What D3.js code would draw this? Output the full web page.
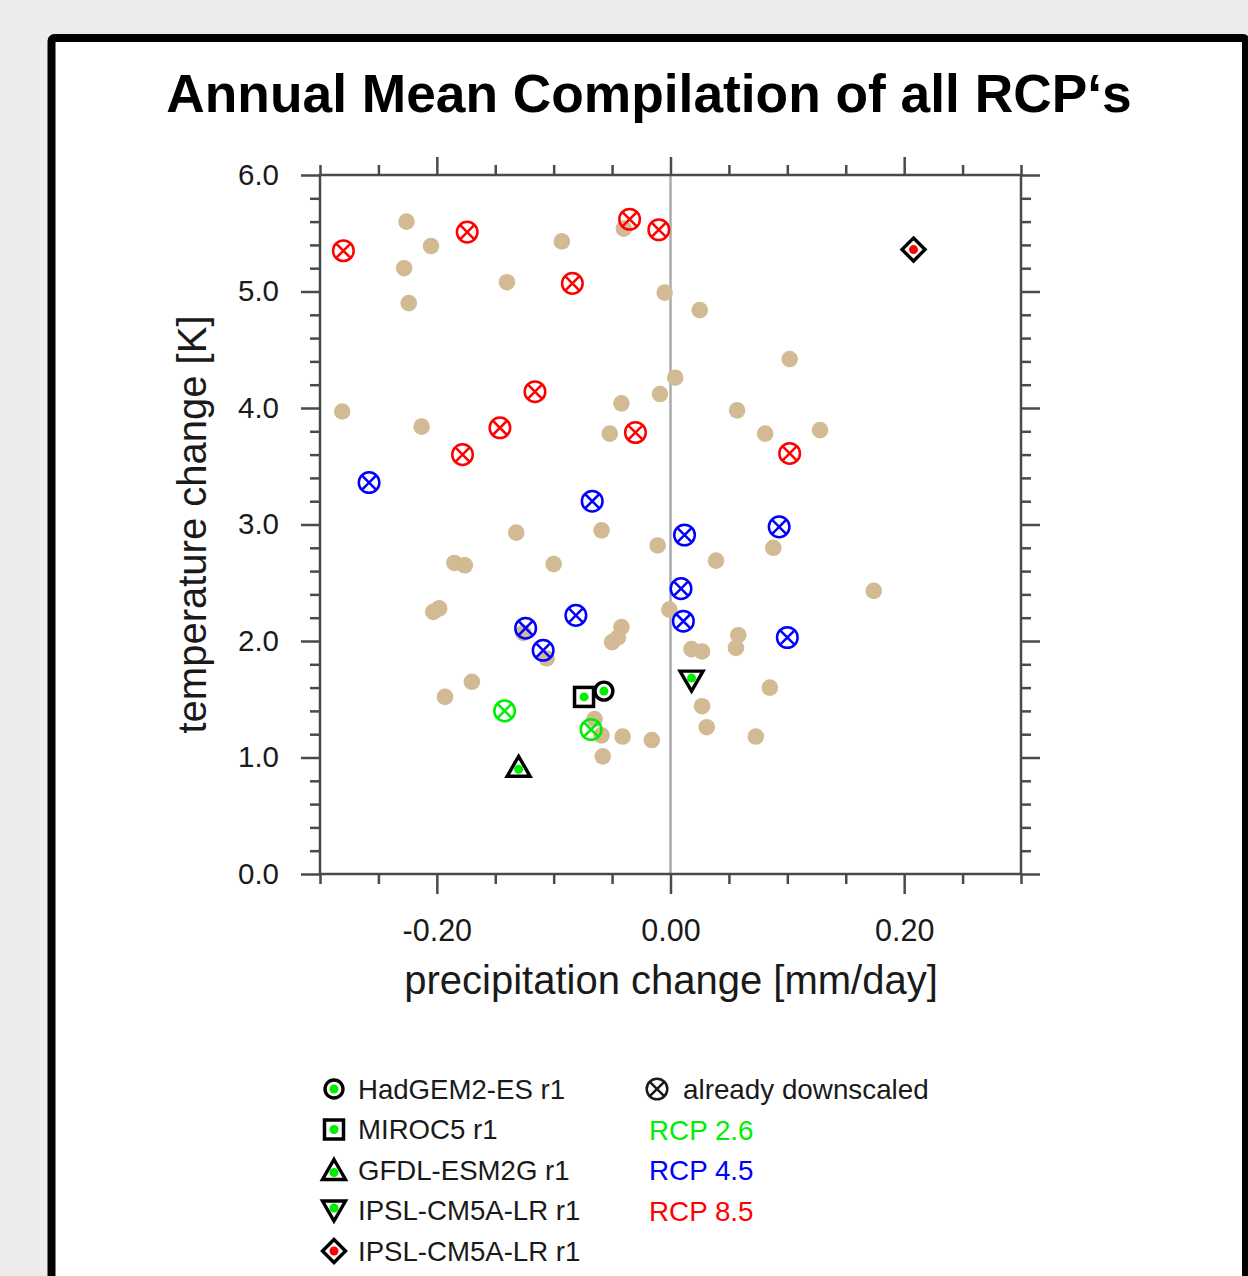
<!DOCTYPE html>
<html>
<head>
<meta charset="utf-8">
<script src="https://cdn.jsdelivr.net/npm/d3@7"></script>
<style>
  body { margin: 0; background: #ececec; }
  svg { display: block; }
  text { font-family: "Liberation Sans", Arial, Helvetica, sans-serif; }
</style>
</head>
<body>
<div id="chart"></div>
<script>
// all other models (tan dots)
let otherModels = [
    [-0.226, 5.60], [-0.205, 5.39], [-0.228, 5.20], [-0.224, 4.90], [-0.140, 5.08],
    [-0.093, 5.43], [-0.040, 5.54], [-0.005, 4.99], [0.025, 4.84], [0.102, 4.42],
    [-0.281, 3.97], [-0.213, 3.84], [-0.052, 3.78], [-0.042, 4.04], [-0.009, 4.12],
    [0.004, 4.26], [0.057, 3.98], [0.081, 3.78], [0.128, 3.81], [-0.132, 2.93],
    [-0.059, 2.95], [-0.011, 2.82], [-0.185, 2.67], [-0.176, 2.65], [-0.100, 2.66],
    [-0.203, 2.25], [-0.198, 2.28], [-0.001, 2.27], [-0.042, 2.12], [-0.045, 2.03],
    [-0.050, 1.99], [-0.126, 2.07], [-0.106, 1.85], [-0.170, 1.65], [-0.193, 1.52],
    [-0.065, 1.33], [-0.059, 1.19], [-0.041, 1.18], [-0.016, 1.15], [-0.058, 1.01],
    [0.088, 2.80], [0.039, 2.69], [0.174, 2.43], [0.058, 2.05], [0.056, 1.94],
    [0.018, 1.93], [0.027, 1.91], [0.085, 1.60], [0.027, 1.44], [0.031, 1.26],
    [0.073, 1.18]
];
// already downscaled, per scenario
let rcp26Done = [[-0.142, 1.40], [-0.068, 1.24]];
let rcp45Done = [
    [-0.258, 3.36], [-0.067, 3.20], [0.012, 2.91], [0.093, 2.98], [0.009, 2.45],
    [-0.081, 2.22], [-0.124, 2.11], [-0.109, 1.92], [0.011, 2.17], [0.100, 2.03]
];
let rcp85Done = [
    [-0.280, 5.35], [-0.174, 5.51], [-0.035, 5.62], [-0.010, 5.53], [-0.084, 5.07],
    [-0.116, 4.14], [-0.146, 3.83], [-0.178, 3.60], [-0.030, 3.79], [0.102, 3.61]
];
// selected models
let selectedNames = ["HadGEM2-ES r1", "MIROC5 r1", "GFDL-ESM2G r1", "IPSL-CM5A-LR r1", "IPSL-CM5A-LR r1"];
let selectedShapes = ["circle", "square", "triUp", "triDown", "diamond"];
let selectedColors = ["#00ee00", "#00ee00", "#00ee00", "#00ee00", "#ff0000"];
let selectedX = [-0.057, -0.074, -0.130, 0.018, 0.208];
let selectedY = [1.57, 1.52, 0.92, 1.66, 5.36];

let rcpLabels = ["RCP 2.6", "RCP 4.5", "RCP 8.5"];
let rcpColors = ["#00ee00", "#0000ff", "#ff0000"];

let xMajor = [-0.2, 0, 0.2];
let xMinor = [-0.3, -0.25, -0.15, -0.1, -0.05, 0.05, 0.1, 0.15, 0.25, 0.3];
let yMajor = [0, 1, 2, 3, 4, 5, 6];
let yMinor = d3.range(0, 31).map(i => i / 5).filter(v => Math.abs(v - Math.round(v)) > 1e-6);

let W = 1248, H = 1276;
let plotLeft = 320, plotRight = 1021, plotTop = 175, plotBottom = 874;
let axisColor = "#4a4a4a";

let svg = d3.select("#chart").append("svg").attr("width", W).attr("height", H);
svg.append("rect").attr("width", W).attr("height", H).attr("fill", "#ececec");
svg.append("rect").attr("x", 51.5).attr("y", 38).attr("width", 1194.5).attr("height", 1300)
    .attr("rx", 3).attr("fill", "white").attr("stroke", "black").attr("stroke-width", 8);

svg.append("text").attr("x", 649).attr("y", 112).attr("text-anchor", "middle")
    .attr("font-size", 53.3).attr("font-weight", "bold").attr("fill", "black")
    .text("Annual Mean Compilation of all RCP\u2018s");

let x = d3.scaleLinear().domain([-0.3, 0.3]).range([plotLeft, plotRight]);
let y = d3.scaleLinear().domain([0, 6]).range([plotBottom, plotTop]);

function styleAxis(g) {
    g.select(".domain").remove();
    g.selectAll(".tick line").attr("stroke", axisColor).attr("stroke-width", 2.5);
    g.selectAll(".tick text").attr("fill", "#1a1a1a").style("font-family", "'Liberation Sans', Arial, sans-serif");
}

// minor ticks
svg.append("g").attr("transform", "translate(0," + plotBottom + ")")
    .call(d3.axisBottom(x).tickValues(xMinor).tickSize(10).tickFormat("")).call(styleAxis);
svg.append("g").attr("transform", "translate(0," + plotTop + ")")
    .call(d3.axisTop(x).tickValues(xMinor).tickSize(10).tickFormat("")).call(styleAxis);
svg.append("g").attr("transform", "translate(" + plotLeft + ",0)")
    .call(d3.axisLeft(y).tickValues(yMinor).tickSize(10).tickFormat("")).call(styleAxis);
svg.append("g").attr("transform", "translate(" + plotRight + ",0)")
    .call(d3.axisRight(y).tickValues(yMinor).tickSize(10).tickFormat("")).call(styleAxis);

// major ticks
svg.append("g").attr("transform", "translate(0," + plotBottom + ")")
    .call(d3.axisBottom(x).tickValues(xMajor).tickSize(20).tickPadding(25).tickFormat(d => d.toFixed(2)))
    .call(styleAxis).selectAll("text").attr("font-size", 30.5);
svg.append("g").attr("transform", "translate(0," + plotTop + ")")
    .call(d3.axisTop(x).tickValues(xMajor).tickSize(18).tickFormat("")).call(styleAxis);
svg.append("g").attr("transform", "translate(" + plotLeft + ",0)")
    .call(d3.axisLeft(y).tickValues(yMajor).tickSize(19).tickPadding(22).tickFormat(d => d.toFixed(1)))
    .call(styleAxis).selectAll("text").attr("font-size", 29.5);
svg.append("g").attr("transform", "translate(" + plotRight + ",0)")
    .call(d3.axisRight(y).tickValues(yMajor).tickSize(19).tickFormat("")).call(styleAxis);

// frame and zero line
svg.append("line").attr("x1", x(0)).attr("x2", x(0)).attr("y1", plotTop).attr("y2", plotBottom)
    .attr("stroke", "#aaaaaa").attr("stroke-width", 2.5);
svg.append("rect").attr("x", plotLeft).attr("y", plotTop)
    .attr("width", plotRight - plotLeft).attr("height", plotBottom - plotTop)
    .attr("fill", "none").attr("stroke", axisColor).attr("stroke-width", 2.5);

// axis titles
svg.append("text").attr("x", (plotLeft + plotRight) / 2 + 0.5).attr("y", 994).attr("text-anchor", "middle")
    .attr("font-size", 40).attr("fill", "#1a1a1a").text("precipitation change [mm/day]");
svg.append("text").attr("transform", "translate(206," + ((plotTop + plotBottom) / 2) + ") rotate(-90)")
    .attr("text-anchor", "middle").attr("font-size", 40).attr("fill", "#1a1a1a")
    .text("temperature change [K]");

// tan dots
svg.append("g").selectAll("circle").data(otherModels).join("circle")
    .attr("cx", d => x(d[0])).attr("cy", d => y(d[1])).attr("r", 8.3)
    .attr("fill", "#d2bb94");

function drawDone(g, color) {
    g.append("circle").attr("r", 10.3).attr("fill", "none").attr("stroke", color).attr("stroke-width", 2.5);
    g.append("path").attr("d", "M-7.2,-7.2L7.2,7.2M-7.2,7.2L7.2,-7.2").attr("stroke", color).attr("stroke-width", 2.5);
}

[rcp26Done, rcp45Done, rcp85Done].forEach((list, i) => {
    list.forEach(d => {
        let g = svg.append("g").attr("transform", "translate(" + x(d[0]) + "," + y(d[1]) + ")");
        drawDone(g, rcpColors[i]);
    });
});

function drawShape(g, shape, color) {
    let dotY = 0;
    if (shape === "circle") {
        g.append("circle").attr("r", 9).attr("fill", "white").attr("stroke", "black").attr("stroke-width", 3.4);
    } else if (shape === "square") {
        g.append("rect").attr("x", -9.5).attr("y", -9.5).attr("width", 19).attr("height", 19)
            .attr("fill", "white").attr("stroke", "black").attr("stroke-width", 3.5);
    } else {
        let p = {
            triUp: "M0,-10.5L11.5,9.5L-11.5,9.5Z",
            triDown: "M0,10.5L11.5,-9.5L-11.5,-9.5Z",
            diamond: "M0,-11.5L11.5,0L0,11.5L-11.5,0Z"
        }[shape];
        dotY = shape === "triUp" ? 2.5 : shape === "triDown" ? -2.5 : 0;
        g.append("path").attr("d", p).attr("fill", "white").attr("stroke", "black")
            .attr("stroke-width", 3.4).attr("stroke-linejoin", "miter");
    }
    g.append("circle").attr("cy", dotY).attr("r", 4.5).attr("fill", color);
}

selectedX.forEach((vx, i) => {
    let g = svg.append("g").attr("transform", "translate(" + x(vx) + "," + y(selectedY[i]) + ")");
    drawShape(g, selectedShapes[i], selectedColors[i]);
});

// legend
let legendTop = 1089, legendStep = 40.5;
selectedNames.forEach((name, i) => {
    let ly = legendTop + i * legendStep;
    let g = svg.append("g").attr("transform", "translate(334," + ly + ")");
    drawShape(g, selectedShapes[i], selectedColors[i]);
    svg.append("text").attr("x", 358).attr("y", ly).attr("dy", "0.36em")
        .attr("font-size", 27.6).attr("fill", "#1a1a1a").text(name);
});
let gDone = svg.append("g").attr("transform", "translate(657," + legendTop + ")");
drawDone(gDone, "#1a1a1a");
svg.append("text").attr("x", 683).attr("y", legendTop).attr("dy", "0.36em")
    .attr("font-size", 27.8).attr("fill", "#1a1a1a").text("already downscaled");
rcpLabels.forEach((lab, i) => {
    svg.append("text").attr("x", 649).attr("y", legendTop + (i + 1) * legendStep).attr("dy", "0.36em")
        .attr("font-size", 27.8).attr("fill", rcpColors[i]).text(lab);
});
</script>
</body>
</html>
